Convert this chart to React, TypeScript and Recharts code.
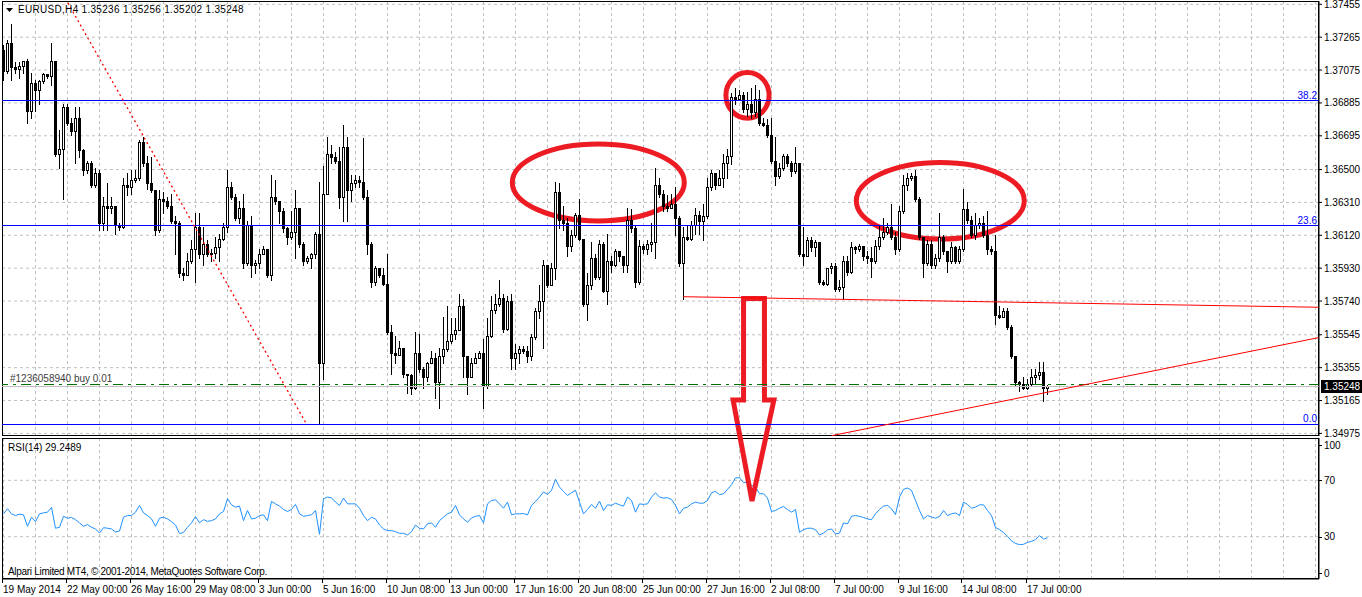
import React from "react";
import {
  ComposedChart,
  Bar,
  Line,
  XAxis,
  YAxis,
  CartesianGrid,
  ReferenceLine,
  ReferenceArea,
} from "recharts";

const W = 1362;
const H = 597;
const FONT = "'Liberation Sans', Arial, sans-serif";

// EURUSD H4 candles (open of each bar = previous close)
const firstOpen = 1.3719;
const closes = [
  1.3707, 1.3723, 1.3709, 1.3708, 1.371, 1.3713, 1.3684, 1.37, 1.3696, 1.3701,
  1.3705, 1.3704, 1.3713, 1.3659, 1.3662, 1.3686, 1.3677, 1.3672, 1.368, 1.3661,
  1.365, 1.3654, 1.3641, 1.3648, 1.3619, 1.3629, 1.3628, 1.3629, 1.3618, 1.3617,
  1.3641, 1.364, 1.3644, 1.3645, 1.3666, 1.3654, 1.3642, 1.3638, 1.3615, 1.3633,
  1.3632, 1.3629, 1.362, 1.3619, 1.359, 1.3589, 1.3597, 1.3604, 1.3617, 1.3601,
  1.3607, 1.3601, 1.3602, 1.3605, 1.361, 1.3617, 1.364, 1.3634, 1.3622, 1.3628,
  1.3596, 1.3618, 1.3595, 1.3596, 1.3601, 1.3604, 1.3589, 1.3634, 1.3632, 1.3626,
  1.3616, 1.3611, 1.3614, 1.3628, 1.3607, 1.3597, 1.3599, 1.3601, 1.3613, 1.3538,
  1.3636, 1.3659, 1.3657, 1.3655, 1.3634, 1.3663, 1.3638, 1.3642, 1.3644, 1.3643,
  1.3634, 1.3607, 1.3585, 1.3593, 1.3589, 1.3584, 1.3556, 1.3544, 1.3543, 1.3547,
  1.3532, 1.3531, 1.3524, 1.3544, 1.3535, 1.353, 1.3538, 1.3541, 1.3527, 1.3542,
  1.3546, 1.3551, 1.3555, 1.3557, 1.3571, 1.3542, 1.353, 1.3538, 1.3541, 1.3544,
  1.3525, 1.3554, 1.3569, 1.3572, 1.3576, 1.3558, 1.3574, 1.3541, 1.3544, 1.3546,
  1.3545, 1.3542, 1.3553, 1.3568, 1.3574, 1.3595, 1.3583, 1.3593, 1.3637, 1.3621,
  1.3619, 1.3606, 1.3612, 1.3624, 1.361, 1.3572, 1.3583, 1.3599, 1.3588, 1.3607,
  1.358, 1.3597, 1.3595, 1.3603, 1.36, 1.3595, 1.3621, 1.3616, 1.3585, 1.3606,
  1.3604, 1.3607, 1.3608, 1.3641, 1.3636, 1.3629, 1.3628, 1.363, 1.3622, 1.3596,
  1.3611, 1.361, 1.3618, 1.3624, 1.362, 1.3623, 1.364, 1.3648, 1.3641, 1.3645,
  1.3654, 1.3658, 1.3692, 1.3691, 1.3693, 1.3685, 1.3688, 1.3683, 1.3691, 1.3677,
  1.3676, 1.367, 1.3655, 1.3646, 1.3651, 1.3658, 1.3654, 1.3649, 1.3654, 1.3601,
  1.36, 1.3609, 1.3605, 1.3608, 1.3585, 1.3584, 1.3593, 1.3594, 1.3581, 1.3582,
  1.3597, 1.3591, 1.3605, 1.3604, 1.3606, 1.36, 1.3599, 1.3597, 1.3606, 1.3611,
  1.3614, 1.3617, 1.3611, 1.3604, 1.3626, 1.3641, 1.3645, 1.3646, 1.3633, 1.3611,
  1.3596, 1.3607, 1.3595, 1.3599, 1.3611, 1.3603, 1.3597, 1.3605, 1.3597, 1.3604,
  1.3627, 1.3621, 1.3612, 1.3618, 1.3619, 1.3612, 1.3604, 1.3603, 1.3566, 1.3565,
  1.3568, 1.3559, 1.3542, 1.3527, 1.3526, 1.3524, 1.3526, 1.353, 1.3531, 1.3533,
  1.35236, 1.35248,
];
const highs = [
  1.3722, 1.3725, 1.3734, 1.3712, 1.3712, 1.3713, 1.3714, 1.3706, 1.3702, 1.3702,
  1.3706, 1.3705, 1.3723, 1.3713, 1.3673, 1.3688, 1.3688, 1.368, 1.3686, 1.3686,
  1.3662, 1.3655, 1.3655, 1.3651, 1.365, 1.3634, 1.3642, 1.3634, 1.3625, 1.3619,
  1.3645, 1.3648, 1.365, 1.365, 1.3667, 1.3669, 1.3658, 1.3657, 1.3638, 1.3638,
  1.3637, 1.3634, 1.3636, 1.3623, 1.362, 1.3593, 1.3602, 1.3609, 1.3625, 1.3625,
  1.3617, 1.3609, 1.3604, 1.3611, 1.3613, 1.3619, 1.365, 1.3643, 1.3636, 1.3632,
  1.3636, 1.362, 1.3623, 1.3598, 1.3604, 1.3606, 1.3603, 1.3647, 1.3644, 1.3632,
  1.3628, 1.3617, 1.3626, 1.3638, 1.3627, 1.3608, 1.36, 1.3602, 1.3614, 1.3643,
  1.3652, 1.3669, 1.3664, 1.366, 1.3663, 1.3676, 1.3669, 1.3647, 1.3647, 1.3646,
  1.3668, 1.3638, 1.3608, 1.3594, 1.3593, 1.3593, 1.3601, 1.356, 1.3554, 1.3551,
  1.3546, 1.3532, 1.3532, 1.3556, 1.3555, 1.3536, 1.3539, 1.3545, 1.3544, 1.3547,
  1.3565, 1.3571, 1.3564, 1.3564, 1.3578, 1.3575, 1.3542, 1.3541, 1.3544, 1.3545,
  1.3552, 1.3564, 1.3577, 1.3578, 1.3586, 1.3578, 1.3577, 1.3578, 1.3549, 1.3548,
  1.3548, 1.3548, 1.3555, 1.357, 1.3583, 1.3598, 1.3595, 1.3596, 1.3643, 1.3642,
  1.3629, 1.3622, 1.3615, 1.3625, 1.3633, 1.361, 1.359, 1.3608, 1.3601, 1.3609,
  1.3608, 1.3613, 1.36, 1.3604, 1.3603, 1.36, 1.3628, 1.3627, 1.3618, 1.3609,
  1.3607, 1.3609, 1.3619, 1.3651, 1.3645, 1.3638, 1.3635, 1.3636, 1.364, 1.3623,
  1.3617, 1.3618, 1.362, 1.3628, 1.3626, 1.363, 1.3645, 1.365, 1.3647, 1.365,
  1.3659, 1.3662, 1.3694, 1.3697, 1.3696, 1.3695, 1.3695, 1.3697, 1.3699, 1.3696,
  1.368, 1.3679, 1.368, 1.3669, 1.3654, 1.3659, 1.3659, 1.3655, 1.3663, 1.3654,
  1.3617, 1.3611, 1.3611, 1.3609, 1.3608, 1.3586, 1.3593, 1.3596, 1.3596, 1.3586,
  1.36, 1.36, 1.3608, 1.3606, 1.3607, 1.3604, 1.3603, 1.3605, 1.3609, 1.3618,
  1.3622, 1.3619, 1.363, 1.3614, 1.3629, 1.3647, 1.3648, 1.3648, 1.365, 1.3634,
  1.3611, 1.3609, 1.3609, 1.3601, 1.3625, 1.3612, 1.3603, 1.3608, 1.3606, 1.3606,
  1.3639, 1.3631, 1.3623, 1.3625, 1.3622, 1.3623, 1.3626, 1.3606, 1.3612, 1.3571,
  1.357, 1.357, 1.356, 1.3542, 1.3528, 1.353, 1.3529, 1.3535, 1.3535, 1.3539,
  1.3539, 1.35256,
];
const lows = [
  1.3702, 1.3706, 1.3702, 1.3706, 1.3703, 1.3706, 1.3677, 1.368, 1.3684, 1.3688,
  1.37, 1.3703, 1.3699, 1.3658, 1.3651, 1.3633, 1.3676, 1.367, 1.3654, 1.3657,
  1.3647, 1.3648, 1.364, 1.364, 1.3615, 1.3615, 1.3615, 1.3625, 1.3613, 1.3615,
  1.3616, 1.3635, 1.3636, 1.3643, 1.3644, 1.3652, 1.3639, 1.3637, 1.3612, 1.3614,
  1.3625, 1.3628, 1.3619, 1.3601, 1.3588, 1.3586, 1.3589, 1.3596, 1.3585, 1.3599,
  1.3595, 1.36, 1.3597, 1.3599, 1.3597, 1.3609, 1.3614, 1.3633, 1.3621, 1.3619,
  1.3593, 1.3595, 1.3588, 1.359, 1.3593, 1.3601, 1.3588, 1.3586, 1.363, 1.3619,
  1.3614, 1.3607, 1.361, 1.3599, 1.3605, 1.3595, 1.3596, 1.3593, 1.3599, 1.3503,
  1.3529, 1.3636, 1.3654, 1.3654, 1.3628, 1.362, 1.362, 1.3632, 1.364, 1.364,
  1.3633, 1.3601, 1.3582, 1.3583, 1.3588, 1.3583, 1.3555, 1.3532, 1.3538, 1.3544,
  1.353, 1.3521, 1.352, 1.3523, 1.3533, 1.3524, 1.3528, 1.3538, 1.3518, 1.3512,
  1.3538, 1.3545, 1.355, 1.3552, 1.3557, 1.353, 1.352, 1.353, 1.3538, 1.3541,
  1.3512, 1.3524, 1.3553, 1.3567, 1.3571, 1.3556, 1.3557, 1.3535, 1.3535, 1.3538,
  1.3544, 1.3539, 1.354, 1.3552, 1.3564, 1.3547, 1.3582, 1.3586, 1.3587, 1.3616,
  1.3615, 1.36, 1.3603, 1.3611, 1.3609, 1.3571, 1.3563, 1.3581, 1.3587, 1.3587,
  1.3579, 1.3572, 1.3591, 1.3594, 1.3597, 1.3591, 1.3591, 1.3614, 1.3582, 1.3584,
  1.3602, 1.3601, 1.3603, 1.3599, 1.3634, 1.3626, 1.3626, 1.3628, 1.3612, 1.3594,
  1.3575, 1.3609, 1.3609, 1.3613, 1.3613, 1.3609, 1.3622, 1.3638, 1.3639, 1.3644,
  1.364, 1.3645, 1.3653, 1.3688, 1.369, 1.3683, 1.3681, 1.368, 1.3681, 1.3676,
  1.3675, 1.3669, 1.3654, 1.3641, 1.3645, 1.365, 1.3652, 1.3646, 1.3648, 1.36,
  1.3595, 1.36, 1.3603, 1.36, 1.3584, 1.3583, 1.3583, 1.359, 1.358, 1.358,
  1.3575, 1.3589, 1.359, 1.3602, 1.3603, 1.3598, 1.3596, 1.3588, 1.3596, 1.3604,
  1.361, 1.3613, 1.361, 1.3601, 1.3603, 1.3625, 1.3638, 1.3644, 1.3632, 1.361,
  1.3588, 1.3595, 1.3593, 1.3593, 1.3597, 1.3601, 1.3591, 1.3596, 1.3596, 1.3596,
  1.3603, 1.3619, 1.3611, 1.361, 1.3616, 1.3611, 1.3601, 1.3601, 1.3561, 1.3564,
  1.3565, 1.3558, 1.3541, 1.3525, 1.3522, 1.3523, 1.3523, 1.3525, 1.3526, 1.3529,
  1.3516, 1.35202,
];

// RSI(14) per bar
const rsiValues = [
  46.2, 49.8, 46.2, 45, 46, 45.5, 37.4, 43.8, 40.7, 46.2,
  46.9, 47.4, 50.7, 36, 36.7, 44.5, 43.1, 43.6, 42.1, 39.8,
  37.4, 38.6, 36.7, 35.5, 32.6, 36.4, 36, 35.5, 33.3, 34,
  43.8, 45, 45, 47.4, 52.2, 46.9, 45, 42.6, 37.4, 43.1,
  43.8, 42.6, 40.7, 38.3, 32.2, 33.1, 36.7, 39.8, 44.3, 39.8,
  42.1, 40.9, 41.4, 42.6, 46.2, 47.9, 56.9, 52.6, 51, 51.7,
  41.4, 48.6, 42.6, 43.1, 45, 45.5, 41.4, 55, 53.3, 51.7,
  49.3, 47.9, 49.3, 52.9, 46.2, 44.5, 45, 45.5, 48.6, 31.7,
  56.9, 58.1, 57.6, 54.5, 52.2, 57.4, 53.3, 53.3, 53.3, 50.2,
  45, 41.4, 43.8, 42.6, 38.3, 35.5, 34.3, 34.3, 33.6, 32.4,
  32.4, 31.2, 33.6, 38.3, 36, 35.5, 39.1, 39.8, 36.7, 41.4,
  43.8, 46.2, 47.4, 52.2, 45.5, 42.6, 40.3, 43.3, 44.5, 45,
  39.8, 53.3, 55.7, 56.2, 53.3, 50.2, 54.5, 45.5, 46.2, 46.2,
  46.4, 45.5, 52.2, 55, 58.1, 61.7, 60, 62.9, 70.7, 65.2,
  62.1, 59.3, 61.2, 62.9, 54.5, 46.2, 49.3, 52.9, 50.2, 55.2,
  48.6, 52.6, 52.2, 53.8, 52.6, 51.7, 58.1, 55.7, 47.4, 53.3,
  52.9, 53.3, 58.1, 61.2, 58.1, 57.4, 57.6, 56.4, 52.2, 46.2,
  50.2, 51, 53.3, 54.5, 53.8, 53.8, 55.7, 61.2, 62.1, 59.8,
  60.5, 63.6, 66.9, 71.7, 71.9, 68.3, 68.8, 66.4, 65.2, 60.5,
  60.5, 57.4, 47.9, 48.6, 50.2, 51.4, 49.3, 47.4, 49.3, 33.1,
  35, 36, 36, 35, 31.2, 32.6, 34.8, 35.5, 31.9, 32.6,
  39.8, 39.1, 44.5, 45, 44.5, 43.6, 42.6, 42.1, 46.2, 49.3,
  51.7, 52.2, 49.8, 45.7, 58.1, 63.6, 64.5, 62.9, 55.7, 48.6,
  42.6, 45, 44, 43.1, 44.3, 48.6, 45, 46.2, 46.9, 45,
  54.5, 52.9, 50.2, 51, 52.6, 52.6, 48.6, 45, 36.5, 35,
  33, 30.3, 27, 25.2, 24.4, 24.6, 26, 26.7, 28, 30.7,
  28.3, 29.2489,
];

const timeLabels = [
  "19 May 2014", "22 May 00:00", "26 May 16:00", "29 May 08:00", "3 Jun 00:00",
  "5 Jun 16:00", "10 Jun 08:00", "13 Jun 00:00", "17 Jun 16:00", "20 Jun 08:00",
  "25 Jun 00:00", "27 Jun 16:00", "2 Jul 08:00", "7 Jul 00:00", "9 Jul 16:00",
  "14 Jul 08:00", "17 Jul 00:00",
];
const priceTicks = [
  1.34975, 1.35165, 1.35355, 1.35545, 1.3574, 1.3593, 1.3612, 1.3631, 1.365,
  1.36695, 1.36885, 1.37075, 1.37265, 1.37455,
];
const rsiTicks = [0, 30, 70, 100];

const fibLevels = [
  { label: "38.2", price: 1.36898 },
  { label: "23.6", price: 1.36175 },
  { label: "0.0", price: 1.35027 },
];
const bidPrice = 1.35248;
const orderPrice = 1.35255;
const title = "EURUSD,H4 1.35236 1.35256 1.35202 1.35248";

const xDomain: [number, number] = [-0.375, 328.875];
const priceDomain: [number, number] = [1.3496, 1.37474];
const gridTicks = Array.from({ length: 42 }, (_, k) => k * 8);
const timeTicks = timeLabels.map((_, k) => k * 16);

const RED = "#ed1c24";

function Candle(props: any) {
  const { x, y, width, height, payload } = props;
  if (x == null || !payload) return null;
  const top = Math.min(y, y + height);
  const bot = Math.max(y, y + height);
  const span = payload.high - payload.low;
  const toY = (v: number) =>
    span > 0 ? top + ((payload.high - v) / span) * (bot - top) : top;
  const cx = Math.round(x + width / 2 - 0.5) + 0.5;
  const yo = toY(payload.open);
  const yc = toY(payload.close);
  const bTop = Math.round(Math.min(yo, yc)) + 0.5;
  const bBot = Math.round(Math.max(yo, yc)) + 0.5;
  const up = payload.close >= payload.open;
  return (
    <g shapeRendering="crispEdges">
      <line x1={cx} x2={cx} y1={Math.round(top)} y2={Math.round(bot) + 1} stroke="#000" />
      {bBot - bTop < 1 ? (
        <line x1={cx - 1.5} x2={cx + 1.5} y1={bTop} y2={bTop} stroke="#000" />
      ) : (
        <rect x={cx - 1} y={bTop} width={2} height={bBot - bTop} fill={up ? "#fff" : "#000"} stroke="#000" />
      )}
    </g>
  );
}

function EllipseShape(p: any) {
  return (
    <ellipse
      cx={p.x + p.width / 2}
      cy={p.y + p.height / 2}
      rx={Math.abs(p.width) / 2}
      ry={Math.abs(p.height) / 2}
      fill="none"
      stroke={RED}
      strokeWidth={5}
    />
  );
}

function ArrowShape(p: any) {
  const { x, y, width: w, height: h } = p;
  const fx = (f: number) => x + f * w;
  const fy = (f: number) => y + f * h;
  const head = 101.5 / 202.5;
  const pts = [
    [fx(10.5 / 41), fy(0)],
    [fx(31.5 / 41), fy(0)],
    [fx(31.5 / 41), fy(head)],
    [fx(1), fy(head)],
    [fx(19 / 41), fy(1)],
    [fx(0), fy(head)],
    [fx(10.5 / 41), fy(head)],
  ];
  return (
    <polygon
      points={pts.map((q) => q.join(",")).join(" ")}
      fill="none"
      stroke={RED}
      strokeWidth={5}
      strokeLinejoin="miter"
    />
  );
}

function BorderShape(p: any) {
  return (
    <rect
      x={Math.round(p.x) + 0.5}
      y={Math.round(p.y) + 0.5}
      width={Math.round(p.width) - 1}
      height={Math.round(p.height) - 1}
      fill="none"
      stroke="#000"
      shapeRendering="crispEdges"
    />
  );
}

function TimeTick({ x, y, payload }: any) {
  const label = timeLabels[Math.round(payload.value / 16)];
  const tx = Math.round(x) - 1.5;
  return (
    <g>
      <line x1={tx} x2={tx} y1={y} y2={y + 4} stroke="#000" shapeRendering="crispEdges" />
      <text x={tx + 0.5} y={y + 13.5} fontSize={10} fontFamily={FONT} fill="#000">
        {label}
      </text>
    </g>
  );
}

function RsiTick({ x, y, payload }: any) {
  const v = payload.value;
  const yy = y + (v === 100 ? 7 : v === 0 ? -6 : 0);
  const ly = Math.round(yy) + 0.5;
  return (
    <g>
      <line x1={x} x2={x + 3} y1={ly} y2={ly} stroke="#000" shapeRendering="crispEdges" />
      <text x={x + 5} y={yy} dy="0.355em" fontSize={10} fontFamily={FONT} fill="#000">
        {v}
      </text>
    </g>
  );
}

export default function App() {
  const data = closes.map((close, i) => {
    const open = i === 0 ? firstOpen : closes[i - 1];
    return {
      i,
      open,
      close,
      high: Math.max(highs[i], open, close),
      low: Math.min(lows[i], open, close),
      rsi: rsiValues[i],
    };
  });

  const textStyle: React.CSSProperties = {
    position: "absolute",
    fontFamily: FONT,
    fontSize: 10,
    lineHeight: "12px",
    color: "#000",
    whiteSpace: "nowrap",
  };

  return (
    <div style={{ position: "absolute", left: 0, top: 0, width: W, height: H, background: "#fff", overflow: "hidden" }}>
      {/* RSI pane + time axis */}
      <div style={{ position: "absolute", left: 0, top: 0 }}>
        <ComposedChart width={W} height={H} data={data} margin={{ top: 438, right: 0, left: 2, bottom: 0 }}>
          <CartesianGrid
            stroke="#c0c0c0"
            strokeDasharray="3 3"
            verticalValues={gridTicks}
            horizontalValues={[30, 70]}
          />
          <XAxis
            dataKey="i"
            type="number"
            domain={xDomain}
            allowDataOverflow
            ticks={timeTicks}
            interval={0}
            height={18}
            tickSize={0}
            tickMargin={0}
            tickLine={false}
            axisLine={{ stroke: "#000" }}
            tick={<TimeTick />}
          />
          <YAxis
            orientation="right"
            width={43}
            domain={[0, 100]}
            ticks={rsiTicks}
            interval={0}
            tickSize={0}
            tickMargin={0}
            tickLine={false}
            axisLine={{ stroke: "#000" }}
            tick={<RsiTick />}
          />
          <ReferenceArea x1={xDomain[0]} x2={xDomain[1]} y1={0} y2={100} shape={<BorderShape />} ifOverflow="visible" />
          <Line
            dataKey="rsi"
            type="linear"
            stroke="#1e90ff"
            strokeWidth={1}
            dot={false}
            isAnimationActive={false}
          />
        </ComposedChart>
      </div>

      {/* Main price pane */}
      <div style={{ position: "absolute", left: 0, top: 0 }}>
        <ComposedChart width={W} height={H} data={data} margin={{ top: 1, right: 0, left: 2, bottom: 161 }}>
          <CartesianGrid
            stroke="#c0c0c0"
            strokeDasharray="3 3"
            verticalValues={gridTicks}
            horizontalValues={priceTicks}
          />
          <XAxis dataKey="i" type="number" domain={xDomain} allowDataOverflow ticks={gridTicks} hide />
          <YAxis
            orientation="right"
            width={43}
            domain={priceDomain}
            allowDataOverflow
            ticks={priceTicks}
            interval={0}
            tickSize={3}
            tickMargin={2}
            tickLine={{ stroke: "#000" }}
            axisLine={{ stroke: "#000" }}
            tick={{ fill: "#000", fontSize: 10, fontFamily: FONT }}
            tickFormatter={(v: number) => v.toFixed(5)}
          />
          <ReferenceArea x1={xDomain[0]} x2={xDomain[1]} y1={priceDomain[0]} y2={priceDomain[1]} shape={<BorderShape />} ifOverflow="visible" />
          {fibLevels.map((f) => (
            <ReferenceLine
              key={f.label}
              y={f.price}
              stroke="#0000ff"
              shapeRendering="crispEdges"
              label={{ value: f.label, position: "insideBottomRight", offset: 2, fill: "#0000ff", fontSize: 10, fontFamily: FONT }}
            />
          ))}
          <ReferenceLine
            y={bidPrice}
            stroke="#c0c0c0"
            shapeRendering="crispEdges"
            label={(p: any) => {
              const vb = p.viewBox || {};
              const yy = vb.y;
              const xr = vb.x + vb.width;
              return (
                <g>
                  <rect x={xr + 2} y={Math.round(yy) - 6} width={41} height={13} fill="#000" />
                  <text x={xr + 5} y={yy} dy="0.355em" fill="#fff" fontSize={10} fontFamily={FONT}>
                    {bidPrice.toFixed(5)}
                  </text>
                </g>
              );
            }}
          />
          <ReferenceLine
            y={orderPrice}
            stroke="#007000"
            strokeDasharray="10 5 3 5"
            shapeRendering="crispEdges"
            label={(p: any) => {
              const vb = p.viewBox || {};
              return (
                <text x={vb.x + 8} y={vb.y - 3} fill="#404040" fontSize={10} fontFamily={FONT}>
                  #1236058940 buy 0.01
                </text>
              );
            }}
          />
          <ReferenceLine
            segment={[{ x: 16.1, y: 1.37463 }, { x: 75.8, y: 1.35027 }]}
            stroke="#ff0000"
            strokeWidth={1.3}
            strokeDasharray="2 3"
            ifOverflow="visible"
          />
          <ReferenceLine
            segment={[{ x: 169.9, y: 1.35765 }, { x: 328.875, y: 1.35704 }]}
            stroke="#ff0000"
            ifOverflow="visible"
          />
          <ReferenceLine
            segment={[{ x: 207.05, y: 1.34962 }, { x: 328.875, y: 1.35529 }]}
            stroke="#ff0000"
            ifOverflow="visible"
          />
          <Bar
            dataKey={(d: any) => [d.low, d.high]}
            barSize={3}
            shape={<Candle />}
            isAnimationActive={false}
          />
          <ReferenceArea x1={127.2} x2={170.2} y1={1.36648} y2={1.36203} shape={<EllipseShape />} ifOverflow="visible" />
          <ReferenceArea x1={180.6} x2={191.4} y1={1.37061} y2={1.36797} shape={<EllipseShape />} ifOverflow="visible" />
          <ReferenceArea x1={213.2} x2={255.2} y1={1.36541} y2={1.36098} shape={<EllipseShape />} ifOverflow="visible" />
          <ReferenceArea x1={182.4} x2={192.6} y1={1.35755} y2={1.34584} shape={<ArrowShape />} ifOverflow="visible" />
        </ComposedChart>
      </div>

      {/* Pane captions */}
      <svg style={{ position: "absolute", left: 6, top: 8 }} width={8} height={6}>
        <polygon points="0,0 7,0 3.5,4" fill="#000" />
      </svg>
      <div style={{ ...textStyle, left: 18, top: 4, letterSpacing: "0.3px" }}>{title}</div>
      <div style={{ ...textStyle, left: 8, top: 442 }}>RSI(14) {rsiValues[rsiValues.length - 1]}</div>
      <div style={{ ...textStyle, left: 8, top: 566, letterSpacing: "-0.3px" }}>
        Alpari Limited MT4, © 2001-2014, MetaQuotes Software Corp.
      </div>
    </div>
  );
}
